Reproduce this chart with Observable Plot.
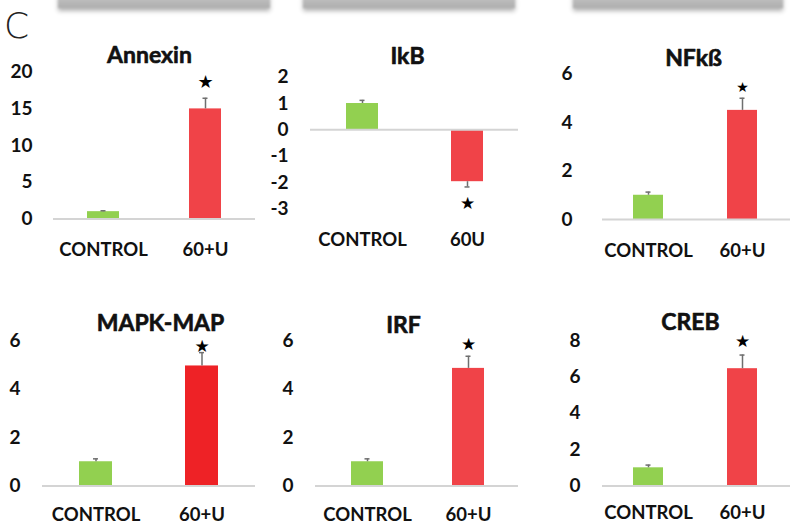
<!DOCTYPE html>
<html>
<head>
<meta charset="utf-8">
<script src="https://cdn.jsdelivr.net/npm/d3@7"></script>
<script src="https://cdn.jsdelivr.net/npm/@observablehq/plot@0.6"></script>
<style>
  html, body { margin: 0; padding: 0; background: #fff; }
  #root { position: relative; width: 791px; height: 529px; overflow: hidden; background: #fff; font-family: Lato, "Open Sans", sans-serif; }
  .shadowbox { position: absolute; top: -6px; height: 14px; background: linear-gradient(#c8c8c8, #adadad); box-shadow: 0 3px 4px rgba(0,0,0,0.3); filter: blur(0.8px); }
  .letter { position: absolute; left: 0px; top: 0px; }
  .panel { position: absolute; }
  .panel svg { overflow: visible; }
  .panel svg text { paint-order: stroke; }
</style>
</head>
<body>
<div id="root">
  <div class="shadowbox" style="left:58px; width:212px;"></div>
  <div class="shadowbox" style="left:303px; width:212px;"></div>
  <div class="shadowbox" style="left:573px; width:210px;"></div>
  <svg class="letter" width="50" height="50" viewBox="0 0 50 50">
    <text x="4" y="38" font-family="DejaVu Sans, sans-serif" font-size="36" font-weight="200" fill="#222">C</text>
  </svg>
</div>
<script>
// ---- Data ----
const genes = ["Annexin", "IkB", "NFkß", "MAPK-MAP", "IRF", "CREB"];
const groupLabels = [
  ["CONTROL", "60+U"],
  ["CONTROL", "60U"],
  ["CONTROL", "60+U"],
  ["CONTROL", "60+U"],
  ["CONTROL", "60+U"],
  ["CONTROL", "60+U"]
];
const controlMean = [1.0, 1.0, 1.0, 1.0, 1.0, 1.0];
const controlErr  = [0.12, 0.12, 0.13, 0.12, 0.12, 0.15];
const treatedMean = [15.0, -1.97, 4.5, 4.95, 4.85, 6.45];
const treatedErr  = [1.45, 0.2, 0.5, 0.55, 0.5, 0.75];
const significant = [true, true, true, true, true, true];
const yDomains = [[0, 20], [-3, 2], [0, 6], [0, 6], [0, 6], [0, 8]];
const yTicks = [
  [0, 5, 10, 15, 20],
  [-3, -2, -1, 0, 1, 2],
  [0, 2, 4, 6],
  [0, 2, 4, 6],
  [0, 2, 4, 6],
  [0, 2, 4, 6, 8]
];

// ---- Layout / styles (per panel) ----
const layout = [
  {left: 0,   top: 40,  width: 260, height: 230, mL: 53, mR: 5, mT: 31.7, mB: 51.5, c0: 103,   c1: 205,   bw: 32, yPad: 21, xPad: 24, tx: 149, ty: 55,  starDy: -16, starSize: 18},
  {left: 260, top: 40,  width: 262, height: 230, mL: 50, mR: 4, mT: 36.7, mB: 61.7, c0: 362,   c1: 467,   bw: 32, yPad: 22, xPad: 24, tx: 407, ty: 56,  starDy: 17,  starSize: 17},
  {left: 522, top: 40,  width: 269, height: 230, mL: 80, mR: 1, mT: 33.5, mB: 51,   c0: 648,   c1: 742.5, bw: 30, yPad: 30, xPad: 24, tx: 693, ty: 58,  starDy: -11, starSize: 14},
  {left: 0,   top: 290, width: 260, height: 239, mL: 42, mR: 5, mT: 50,   mB: 43.5, c0: 95.5,  c1: 202,   bw: 33, yPad: 22, xPad: 22, tx: 160, ty: 323, starDy: -6,  starSize: 17},
  {left: 260, top: 290, width: 262, height: 239, mL: 55, mR: 4, mT: 50,   mB: 43.5, c0: 367,   c1: 468,   bw: 32, yPad: 22, xPad: 22, tx: 403, ty: 325, starDy: -12, starSize: 17},
  {left: 522, top: 290, width: 269, height: 239, mL: 80, mR: 1, mT: 50,   mB: 43.5, c0: 648,   c1: 742.5, bw: 30, yPad: 22, xPad: 20, tx: 690, ty: 322, starDy: -14, starSize: 17}
];
const green = "#92D050";
const reds = ["#F04348", "#F04348", "#F04348", "#EE2226", "#F04348", "#F04348"];
const errColor = "#6f6f6f";
const textColor = "#111";
const font = "Lato, 'Open Sans', sans-serif";

const root = document.getElementById("root");

genes.forEach((gene, i) => {
  const L = layout[i];
  const rows = [
    {group: groupLabels[i][0], mean: controlMean[i], err: controlErr[i], color: green, star: false},
    {group: groupLabels[i][1], mean: treatedMean[i], err: treatedErr[i], color: reds[i], star: significant[i]}
  ].map(d => ({...d, tip: d.mean + Math.sign(d.mean) * d.err}));

  const c0 = L.c0 - L.left, c1 = L.c1 - L.left;
  const step = c1 - c0;
  const pad = 1 - L.bw / step;
  const frameCx = (L.mL + (L.width - L.mR)) / 2;

  const chart = Plot.plot({
    width: L.width,
    height: L.height,
    marginLeft: L.mL,
    marginRight: L.mR,
    marginTop: L.mT,
    marginBottom: L.mB,
    style: {fontFamily: font, fontWeight: "bold", fontSize: "18px", color: textColor, background: "transparent", overflow: "visible"},
    x: {domain: groupLabels[i], range: [c0 - step / 2, c1 + step / 2], paddingInner: pad, paddingOuter: pad / 2},
    y: {domain: yDomains[i]},
    marks: [
      Plot.barY(rows, {x: "group", y: "mean", fill: "color"}),
      Plot.ruleY([0], {stroke: "#d4d4d4", strokeWidth: 2}),
      Plot.ruleX(rows, {x: "group", y1: "mean", y2: "tip", stroke: errColor, strokeWidth: 1.5}),
      Plot.tickY(rows, {x: "group", y: "tip", stroke: errColor, strokeWidth: 1.5, insetLeft: L.bw / 2 - 2.5, insetRight: L.bw / 2 - 2.5}),
      Plot.text(rows.filter(d => d.star), {x: "group", y: "tip", text: () => "★", dy: L.starDy, fontSize: L.starSize, fontWeight: "normal", fontFamily: "DejaVu Sans", fill: "#000"}),
      Plot.axisY({ticks: yTicks[i], tickSize: 0, tickPadding: L.yPad, fontSize: 19, fontWeight: "bold", fill: textColor, stroke: textColor, strokeWidth: 0.6, label: null, tickFormat: d => d < 0 ? "-" + Math.abs(d) : String(d)}),
      Plot.axisX({tickSize: 0, tickPadding: L.xPad, fontSize: 18.5, fontWeight: "bold", fill: textColor, stroke: textColor, strokeWidth: 0.6, label: null}),
      Plot.text([gene], {frameAnchor: "top", dx: (L.tx - L.left) - frameCx, dy: (L.ty - L.top) - L.mT, lineAnchor: "middle", fontSize: 23, fontWeight: "bold", fill: textColor, stroke: textColor, strokeWidth: 0.6})
    ]
  });
  const wrap = document.createElement("div");
  wrap.className = "panel";
  wrap.style.left = L.left + "px";
  wrap.style.top = L.top + "px";
  wrap.appendChild(chart);
  root.appendChild(wrap);
});
</script>
</body>
</html>
